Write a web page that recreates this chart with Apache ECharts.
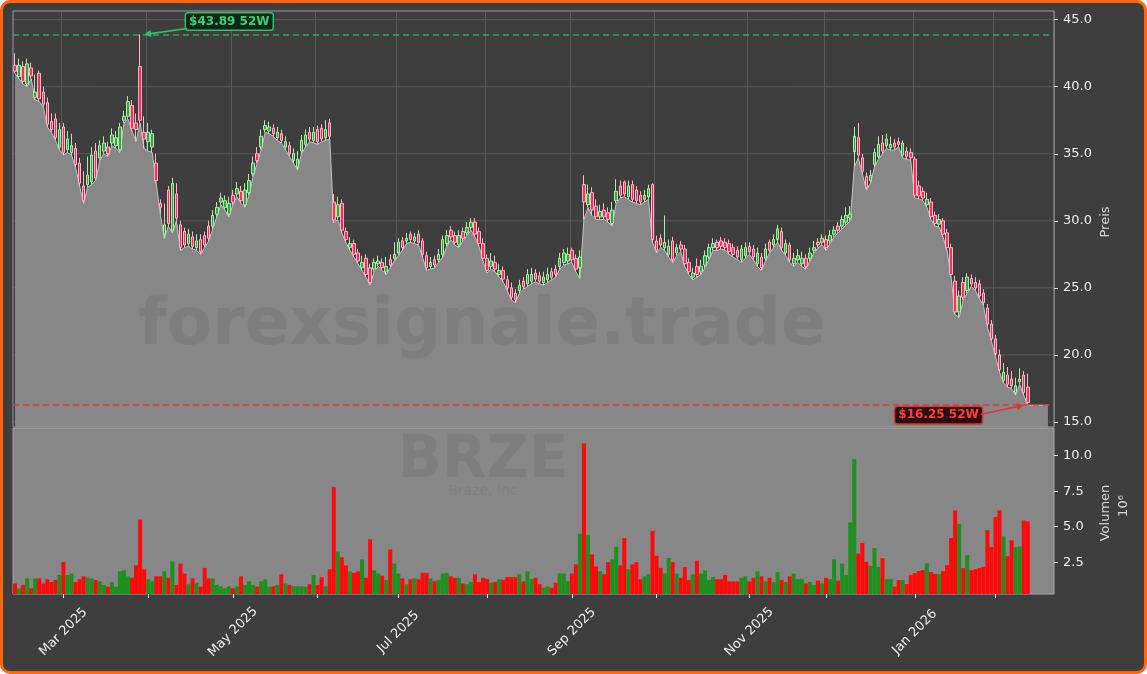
<!DOCTYPE html>
<html><head><meta charset="utf-8">
<script src="https://cdn.jsdelivr.net/npm/echarts@6/dist/echarts.min.js"></script>
<style>
html,body{margin:0;padding:0;background:#ffffff;}
#frame{position:absolute;left:0;top:0;width:1147px;height:674px;box-sizing:border-box;border:3px solid #ff6612;border-radius:10px;background:#3e3e3e;}
#chart{position:absolute;left:0;top:0;width:1147px;height:674px;}
</style></head><body>
<div id="frame"></div><div id="chart"></div>
<script>
// ---------- DATA ----------
const tradingDays = {
  "2025-02":[12,13,14,18,19,20,21,24,25,26,27,28],
  "2025-03":[3,4,5,6,7,10,11,12,13,14,17,18,19,20,21,24,25,26,27,28,31],
  "2025-04":[1,2,3,4,7,8,9,10,11,14,15,16,17,21,22,23,24,25,28,29,30],
  "2025-05":[1,2,5,6,7,8,9,12,13,14,15,16,19,20,21,22,23,27,28,29,30],
  "2025-06":[2,3,4,5,6,9,10,11,12,13,16,17,18,20,23,24,25,26,27,30],
  "2025-07":[1,2,3,7,8,9,10,11,14,15,16,17,18,21,22,23,24,25,28,29,30,31],
  "2025-08":[1,4,5,6,7,8,11,12,13,14,15,18,19,20,21,22,25,26,27,28,29],
  "2025-09":[2,3,4,5,8,9,10,11,12,15,16,17,18,19,22,23,24,25,26,29,30],
  "2025-10":[1,2,3,6,7,8,9,10,13,14,15,16,17,20,21,22,23,24,27,28,29,30,31],
  "2025-11":[3,4,5,6,7,10,11,12,13,14,17,18,19,20,21,24,25,26,28],
  "2025-12":[1,2,3,4,5,8,9,10,11,12,15,16,17,18,19,22,23,24,26,29,30,31],
  "2026-01":[2,5,6,7,8,9,12,13,14,15,16,20,21,22,23,26,27,28,29,30],
  "2026-02":[2,3,4,5,6,9,10,11,12]
};
const padLabels = ["p1","p2","p3","p4","p5","p6"];

const openP = [
41.6,40.75,41.5,40.2,41.4,39.2,41.0,39.6,38.8,37.4,
37.6,35.5,37.0,35.3,35.1,35.4,34.3,32.6,32.7,32.9,
35.2,34.7,35.2,35.5,35.8,35.6,35.3,37.5,37.8,38.6,
37.3,41.5,36.6,35.9,35.5,34.3,31.3,29.0,32.3,29.3,
32.0,29.7,29.2,28.3,28.8,28.0,28.6,28.9,29.6,29.6,
30.5,31.4,31.0,30.5,31.9,32.0,32.2,31.2,32.1,33.5,
35.0,35.5,36.8,36.7,36.9,36.2,36.5,35.5,35.6,34.5,
34.0,35.2,35.7,36.6,36.0,36.8,36.9,36.2,37.3,31.4,
30.3,31.3,29.2,28.0,28.3,27.6,26.5,27.2,26.5,26.4,
26.8,26.9,26.2,27.1,27.2,27.6,28.5,28.5,29.0,28.5,
29.0,28.5,27.4,26.6,27.1,27.1,27.5,28.3,29.3,28.9,
28.2,29.2,29.1,29.5,29.9,29.2,28.3,27.2,26.6,26.9,
26.0,26.3,25.6,25.0,24.6,24.8,25.5,25.3,25.5,26.1,
25.9,25.4,25.6,26.2,26.4,26.6,26.9,27.0,27.8,27.2,
26.5,32.7,31.2,32.1,31.1,30.3,30.8,30.6,29.8,31.5,
32.6,32.9,31.8,32.7,32.3,31.9,31.6,31.8,32.7,28.5,
28.7,28.0,27.5,28.5,27.6,28.2,27.9,26.9,25.8,26.6,
26.2,26.7,27.3,28.0,28.4,28.5,28.4,28.3,28.0,27.8,
27.1,27.4,28.1,27.9,26.8,27.3,27.2,28.4,28.2,28.6,
29.2,27.6,28.2,26.8,27.1,26.8,27.2,27.2,27.8,28.4,
28.4,28.6,28.5,29.0,29.6,29.6,29.9,30.2,35.15,36.2,
34.7,33.3,33.0,34.2,34.8,35.8,35.6,35.45,35.8,35.9,
34.9,35.2,35.1,34.6,32.6,32.2,31.2,31.4,30.4,29.75,
30.0,29.1,28.0,25.5,23.2,25.4,24.8,25.7,25.4,25.3,
24.6,23.5,22.3,21.2,20.0,18.1,18.5,18.2,17.2,18.0,
18.5,17.6];
const closeP = [
41.15,41.6,40.4,41.7,40.8,39.6,39.1,38.7,37.2,36.8,
36.2,36.8,35.1,36.1,35.6,34.2,32.8,31.5,33.4,34.9,
33.2,35.6,35.8,35.0,36.4,36.2,37.0,37.8,38.9,36.9,
36.8,37.5,36.1,36.6,36.5,33.0,31.0,29.7,29.8,32.8,
30.2,28.0,28.2,29.0,28.1,28.5,27.7,28.2,28.7,30.4,
31.0,31.7,31.5,31.3,31.4,32.4,31.5,32.3,33.0,34.3,
34.5,36.3,37.1,37.0,36.5,36.6,36.0,35.9,35.0,35.0,
34.6,36.0,36.4,36.1,36.6,35.9,36.1,36.8,36.3,30.05,
31.2,29.3,28.6,28.3,27.5,27.0,26.9,26.0,25.4,26.9,
27.0,26.5,26.6,26.7,27.5,28.4,28.0,28.7,28.6,28.8,
28.4,27.5,26.5,26.9,26.7,27.5,28.6,28.9,28.8,28.4,
28.9,28.7,29.5,29.9,29.0,28.3,27.2,26.3,27.0,26.4,
26.3,25.65,25.0,24.3,24.1,25.2,25.1,26.0,26.0,25.65,
25.5,25.8,26.0,25.8,26.0,27.2,27.6,27.5,27.1,26.4,
27.3,31.4,32.0,30.8,30.3,30.7,30.3,30.1,30.8,32.2,
31.9,32.0,32.6,31.6,31.5,31.4,31.9,32.4,28.6,27.8,
28.2,28.4,28.1,27.1,28.0,27.9,26.8,26.2,26.1,26.0,
26.6,27.4,28.0,28.3,28.0,28.1,28.0,27.7,27.5,27.3,
27.9,28.0,27.7,27.3,27.6,26.5,27.9,27.8,28.6,29.4,
28.0,28.3,27.1,27.2,27.4,27.2,26.6,27.6,28.0,28.2,
28.7,28.0,28.9,29.3,29.3,30.1,30.4,30.5,36.3,34.9,
33.7,32.5,33.4,35.1,35.7,35.2,36.1,35.7,35.5,35.7,
35.8,34.8,34.7,31.9,31.85,31.7,31.6,30.3,29.8,30.1,
29.0,28.0,26.0,23.2,24.4,24.3,25.8,25.3,25.0,24.4,
23.9,22.3,21.2,20.1,18.9,18.7,17.8,17.7,17.7,18.2,
17.2,16.45];
const lowP = [
41.0,40.6,40.2,40.0,40.6,39.0,38.9,38.5,37.0,36.6,
36.0,35.3,34.9,35.1,34.9,34.0,32.6,31.3,32.5,32.7,
33.0,34.5,35.0,34.8,35.6,35.4,35.1,37.3,37.6,36.7,
35.9,37.3,35.4,35.2,35.1,32.8,30.5,28.7,29.6,29.1,
30.0,27.8,28.0,28.1,27.9,27.8,27.5,28.0,28.5,29.4,
30.3,31.2,30.8,30.3,31.2,31.8,31.3,31.0,31.9,33.3,
34.3,35.3,36.6,36.5,36.3,36.0,35.8,35.3,34.8,34.3,
33.8,35.0,35.5,35.9,35.8,35.7,35.9,36.0,36.1,29.85,
30.1,29.1,28.4,27.8,27.3,26.8,26.3,25.8,25.2,26.2,
26.6,26.3,26.0,26.5,27.0,27.4,27.8,28.3,28.4,28.3,
28.2,27.3,26.3,26.4,26.5,26.9,27.3,28.1,28.6,28.2,
28.0,28.5,28.9,29.3,28.8,28.1,27.0,26.1,26.4,26.2,
25.8,25.45,24.8,24.1,23.9,24.6,24.9,25.1,25.3,25.45,
25.3,25.2,25.4,25.6,25.8,26.4,26.7,26.8,26.9,26.2,
25.7,30.1,31.0,30.4,30.1,30.1,30.1,29.9,29.6,31.3,
31.7,31.8,31.6,31.4,31.3,31.2,31.4,31.6,28.4,27.6,
28.0,27.8,27.3,26.9,27.4,27.7,26.6,26.0,25.6,25.8,
26.0,26.5,27.1,27.8,27.8,27.9,27.8,27.5,27.3,27.1,
26.9,27.2,27.5,27.1,26.6,26.3,27.0,27.6,28.0,28.4,
27.8,27.4,26.9,26.6,26.9,26.6,26.4,27.0,27.6,28.0,
28.2,27.8,28.3,28.8,29.1,29.4,29.7,30.0,34.0,34.7,
33.5,32.3,32.8,34.0,34.6,35.0,35.4,35.25,35.3,35.5,
34.7,34.6,34.5,31.7,31.65,31.5,31.0,30.1,29.6,29.55,
28.8,27.8,25.8,23.0,22.8,24.1,24.6,25.1,24.8,24.2,
23.7,22.1,21.0,19.9,18.7,17.9,17.6,17.5,17.0,17.8,
17.0,16.25];
const highP = [
42.5,42.1,41.9,42.1,41.8,40.9,41.2,40.0,39.2,38.0,
38.0,37.3,37.3,36.7,36.5,35.8,34.7,33.7,34.8,35.5,
35.8,36.0,36.3,35.9,36.9,36.7,37.3,38.2,39.3,39.0,
38.0,43.89,37.8,37.3,36.8,35.0,31.6,31.3,32.6,33.2,
32.8,30.0,29.5,29.4,29.2,29.0,29.0,29.2,30.0,30.8,
31.4,32.1,31.9,31.8,32.3,32.9,32.6,32.8,33.5,34.8,
35.5,36.8,37.5,37.4,37.2,37.0,36.8,36.3,35.9,35.4,
35.2,36.4,36.8,37.0,37.0,37.1,37.2,37.5,37.6,32.0,
31.8,31.6,29.5,28.8,28.6,27.9,27.4,27.5,26.8,27.2,
27.4,27.2,27.3,27.5,28.4,28.7,28.8,29.1,29.2,29.1,
29.3,28.7,27.7,27.3,27.4,27.9,28.9,29.3,29.6,29.2,
29.3,29.5,29.9,30.2,30.2,29.5,28.7,27.5,27.6,27.4,
26.8,26.6,25.9,25.4,24.9,25.6,25.8,26.4,26.5,26.4,
26.2,26.2,26.5,26.5,26.7,27.6,27.9,28.0,28.0,27.5,
27.8,33.4,32.7,32.5,31.6,31.2,31.3,31.0,31.4,33.1,
33.0,33.0,33.0,33.0,32.6,32.2,32.3,32.7,32.8,28.9,
29.0,30.4,28.6,28.8,28.3,28.5,28.2,27.2,26.5,27.2,
27.1,27.8,28.3,28.7,28.6,28.8,28.7,28.6,28.3,28.1,
28.2,28.4,28.4,28.2,28.0,27.6,28.3,28.6,29.0,29.7,
29.5,28.6,28.4,27.6,27.9,27.7,27.5,28.0,28.5,28.7,
29.0,28.9,29.3,29.6,29.9,30.4,31.0,31.1,37.0,37.3,
35.0,33.6,33.8,35.4,36.3,36.4,36.5,36.3,36.1,36.2,
36.0,35.5,35.4,34.8,33.0,32.5,32.1,31.7,30.7,30.5,
30.2,29.4,28.3,25.9,24.8,25.8,26.1,26.0,25.8,25.6,
24.9,23.8,22.6,21.5,20.4,19.4,19.1,18.8,18.3,19.0,
18.8,18.6];
// volume in millions
const volume = [
1.0,0.66,0.9,1.36,0.66,1.36,1.36,1.0,1.3,1.1,
1.25,1.6,2.52,1.6,1.7,1.1,1.3,1.5,1.4,1.36,
1.25,1.15,0.9,0.77,1.1,0.77,1.85,1.92,1.5,1.4,
2.28,5.5,2.0,1.3,1.15,1.5,1.5,1.85,1.4,2.55,
0.9,2.4,1.7,0.95,1.36,1.05,0.77,2.1,1.36,1.36,
0.9,0.8,0.66,0.8,0.66,0.8,1.5,0.9,1.15,0.9,
0.77,1.15,1.3,0.77,0.8,0.9,1.65,1.0,0.9,0.8,
0.8,0.8,0.77,0.95,1.6,0.9,1.45,0.8,2.0,7.78,
3.25,2.85,2.28,1.85,1.75,1.85,2.7,1.4,4.1,1.92,
1.7,1.55,1.25,3.4,2.4,1.7,1.36,0.95,1.3,1.36,
1.3,1.75,1.75,1.36,1.15,1.25,1.7,1.75,1.5,1.4,
1.4,1.0,0.95,1.1,1.65,1.1,1.4,1.3,1.05,1.1,
1.3,1.25,1.45,1.45,1.45,1.65,1.15,1.85,1.3,1.4,
0.95,0.7,0.8,0.7,1.05,1.7,1.7,1.15,1.7,2.35,
4.5,10.86,4.4,3.05,2.2,1.85,1.65,2.5,2.7,3.6,
2.28,4.2,2.0,2.35,2.5,1.3,1.5,1.65,4.7,2.95,
2.1,1.7,2.8,2.5,1.7,1.4,2.15,1.25,1.65,2.6,
1.7,1.92,1.25,1.45,1.3,1.3,1.6,1.15,1.15,1.15,
1.4,1.5,1.15,1.4,1.85,1.5,1.15,1.4,1.1,1.8,
1.25,1.1,1.5,1.7,1.3,1.3,1.0,1.1,0.9,1.2,
1.0,1.4,1.3,2.7,1.2,2.4,1.6,5.3,9.77,3.1,
3.85,2.52,2.24,3.5,2.17,2.78,1.31,1.31,0.77,1.24,
1.24,0.96,1.59,1.73,1.87,1.94,2.43,1.8,1.66,1.66,
1.87,2.29,4.2,6.15,5.2,2.08,3.0,1.94,2.0,2.08,
2.17,4.75,3.57,5.68,6.15,4.32,2.92,4.04,3.57,3.6,
5.44,5.37];
const areaTail = [16.25,16.25,16.25,16.25,16.25];
const priceTicks = [15,20,25,30,35,40,45];
const volumeTicks = [2.5,5,7.5,10];
const monthNames = ["Jan","Feb","Mar","Apr","May","Jun","Jul","Aug","Sep","Oct","Nov","Dec"];
const watermark = "forexsignale.trade";
const ticker = "BRZE";
const company = "Braze, Inc";

// ---------- BUILD ----------
const categories = [];
Object.keys(tradingDays).forEach(m => tradingDays[m].forEach(d => categories.push(m + "-" + String(d).padStart(2,"0"))));
const allCats = categories.concat(padLabels);
const monthStarts = new Set();
for (let i = 1; i < categories.length; i++) {
  if (categories[i].slice(0,7) !== categories[i-1].slice(0,7)) monthStarts.add(i);
}
const labelIdx = new Set([...monthStarts].filter(i => parseInt(categories[i].slice(5,7),10) % 2 === 1));

const maxHigh = Math.max(...highP), minLow = Math.min(...lowP);
const hiIdx = highP.indexOf(maxHigh), loIdx = lowP.indexOf(minLow);
const yMin = minLow * 0.9, yMax = maxHigh * 1.04;
const volMax = Math.max(...volume) * 1.1, volMin = 0.26;

const candleData = openP.map((o,i) => [o, closeP[i], lowP[i], highP[i]]);
const volData = volume.map((v,i) => ({value: v, itemStyle: {color: closeP[i] >= openP[i] ? '#1f8f1f' : '#ff0a0a'}}));

const chart = echarts.init(document.getElementById('chart'), null, {renderer:'canvas'});
const txtCol = '#eeeeee';
const option = {
  animation: false,
  backgroundColor: 'transparent',
  textStyle: {fontFamily: 'DejaVu Sans'},
  grid: [
    {left: 13, right: 93, top: 11, height: 416, show: true, z: 5, borderColor: '#9c9c9c', borderWidth: 1, backgroundColor: 'transparent'},
    {left: 13, right: 93, top: 428, height: 166, show: true, z: 0, borderColor: '#a8a8a8', borderWidth: 1, backgroundColor: '#878787'}
  ],
  xAxis: [
    {type: 'category', gridIndex: 0, data: allCats, boundaryGap: true,
     axisLine: {show: false}, axisTick: {show: false}, axisLabel: {show: false},
     splitLine: {show: true, interval: (i) => monthStarts.has(i), lineStyle: {color: '#5a5a5a', width: 1}}},
    {type: 'category', gridIndex: 1, data: allCats, boundaryGap: true,
     axisLine: {show: false},
     axisTick: {show: true, interval: (i) => monthStarts.has(i), alignWithLabel: true, length: 4, lineStyle: {color: '#e8e8e8'}},
     axisLabel: {show: true, interval: (i) => labelIdx.has(i), rotate: 45, align: 'center', verticalAlign: 'middle', margin: 38,
       color: txtCol, fontSize: 13,
       formatter: (v) => monthNames[parseInt(v.slice(5,7),10)-1] + ' ' + v.slice(0,4)},
     splitLine: {show: false}}
  ],
  yAxis: [
    {type: 'value', gridIndex: 0, position: 'right', min: yMin, max: yMax, scale: true,
     axisLine: {show: false}, splitLine: {show: false},
     axisTick: {show: true, customValues: priceTicks, length: 4, lineStyle: {color: '#e8e8e8'}},
     axisLabel: {show: true, customValues: priceTicks, formatter: (v) => v.toFixed(1), color: txtCol, fontSize: 13, margin: 9}},
    {type: 'value', gridIndex: 1, position: 'right', min: volMin, max: volMax,
     axisLine: {show: false}, splitLine: {show: false},
     axisTick: {show: true, customValues: volumeTicks, length: 4, lineStyle: {color: '#e8e8e8'}},
     axisLabel: {show: true, customValues: volumeTicks, formatter: (v) => v.toFixed(1), color: txtCol, fontSize: 13, margin: 9}}
  ],
  series: [
    {type: 'custom', xAxisIndex: 0, yAxisIndex: 0, z: 1, silent: true,
     data: priceTicks.map(v => [0, v]),
     renderItem: (params, api) => {
       const y = api.coord([0, api.value(1)])[1];
       const cs = params.coordSys;
       return {type: 'line', shape: {x1: cs.x, y1: y, x2: cs.x + cs.width, y2: y}, style: {stroke: '#5a5a5a', lineWidth: 1}};
     }},
    {type: 'line', xAxisIndex: 0, yAxisIndex: 0, z: 2, silent: true, symbol: 'none',
     data: lowP.concat(areaTail),
     lineStyle: {color: '#c4c4c4', width: 1},
     areaStyle: {color: '#878787', opacity: 1, origin: 'start'}},
    {type: 'candlestick', xAxisIndex: 0, yAxisIndex: 0, z: 3, barWidth: 3, silent: true,
     data: candleData,
     itemStyle: {color: '#3f9f4f', color0: '#ff2d5a', borderColor: '#a6eea6', borderColor0: '#ffb3c6', borderWidth: 1},
     markLine: {silent: true, symbol: ['none','none'], label: {show: false},
       data: [
         {yAxis: maxHigh, lineStyle: {color: '#3aa35e', type: [6,4], width: 1.5}},
         {yAxis: minLow, lineStyle: {color: '#e23c3c', type: [6,4], width: 1.5}}
       ]}},
    {type: 'bar', xAxisIndex: 1, yAxisIndex: 1, z: 2, silent: true, barCategoryGap: '0%', data: volData}
  ]
};
chart.setOption(option);

// annotations & texts
function arrow(x1, y1, x2, y2, color) {
  const dx = x2 - x1, dy = y2 - y1, L = Math.hypot(dx, dy), ux = dx / L, uy = dy / L, nx = -uy, ny = ux, hl = 7, hw = 3.5;
  return [
    {type: 'line', z: 100, shape: {x1: x1, y1: y1, x2: x2 - ux * hl * 0.7, y2: y2 - uy * hl * 0.7}, style: {stroke: color, lineWidth: 1.6}},
    {type: 'polygon', z: 100, shape: {points: [[x2, y2], [x2 - ux * hl + nx * hw, y2 - uy * hl + ny * hw], [x2 - ux * hl - nx * hw, y2 - uy * hl - ny * hw]]}, style: {fill: color}}
  ];
}
const pHi = chart.convertToPixel({gridIndex: 0}, [hiIdx, maxHigh]);
const pLo = chart.convertToPixel({gridIndex: 0}, [loIdx, minLow]);
const wmColor = 'rgba(0,0,0,0.065)';
const elements = [
  {type: 'text', z: 50, x: 482, y: 327, style: {text: watermark, font: 'bold 66px "DejaVu Sans"', fill: wmColor, align: 'center', verticalAlign: 'middle'}},
  {type: 'text', z: 50, x: 483, y: 462, style: {text: ticker, font: 'bold 58px "DejaVu Sans"', fill: wmColor, align: 'center', verticalAlign: 'middle'}},
  {type: 'text', z: 50, x: 483, y: 491, style: {text: company, font: '14px "DejaVu Sans"', fill: 'rgba(0,0,0,0.06)', align: 'center', verticalAlign: 'middle'}},
  {type: 'text', z: 50, x: 1106, y: 222, rotation: Math.PI / 2, style: {text: 'Preis', font: '13px "DejaVu Sans"', fill: '#d6d6d6', align: 'center', verticalAlign: 'middle'}},
  {type: 'text', z: 50, x: 1106, y: 513, rotation: Math.PI / 2, style: {text: 'Volumen', font: '13px "DejaVu Sans"', fill: '#d6d6d6', align: 'center', verticalAlign: 'middle'}},
  {type: 'text', z: 50, x: 1124, y: 506, rotation: Math.PI / 2, style: {text: '10⁶', font: '13px "DejaVu Sans"', fill: '#d6d6d6', align: 'center', verticalAlign: 'middle'}},
  {type: 'text', z: 100, x: pHi[0] + 46, y: pHi[1] - 21, style: {text: '$' + maxHigh.toFixed(2) + ' 52W', font: 'bold 12px "DejaVu Sans"', fill: '#35d07a', backgroundColor: '#0e2616', borderColor: '#2fbf6a', borderWidth: 1.5, borderRadius: 2, padding: [2,3,2,3], align: 'left', verticalAlign: 'top'}},
  {type: 'text', z: 100, x: pLo[0] - 46, y: pLo[1] + 2, style: {text: '$' + minLow.toFixed(2) + ' 52W', font: 'bold 12px "DejaVu Sans"', fill: '#ff3b3b', backgroundColor: '#2a0e0e', borderColor: '#d83232', borderWidth: 1.5, borderRadius: 2, padding: [2,3,2,3], align: 'right', verticalAlign: 'top'}}
].concat(arrow(pHi[0] + 47, pHi[1] - 6, pHi[0] + 4, pHi[1], '#2fbf6a'))
 .concat(arrow(pLo[0] - 47, pLo[1] + 9, pLo[0] - 4, pLo[1], '#e03434'));
chart.setOption({graphic: {elements: elements}});
</script>
</body></html>
